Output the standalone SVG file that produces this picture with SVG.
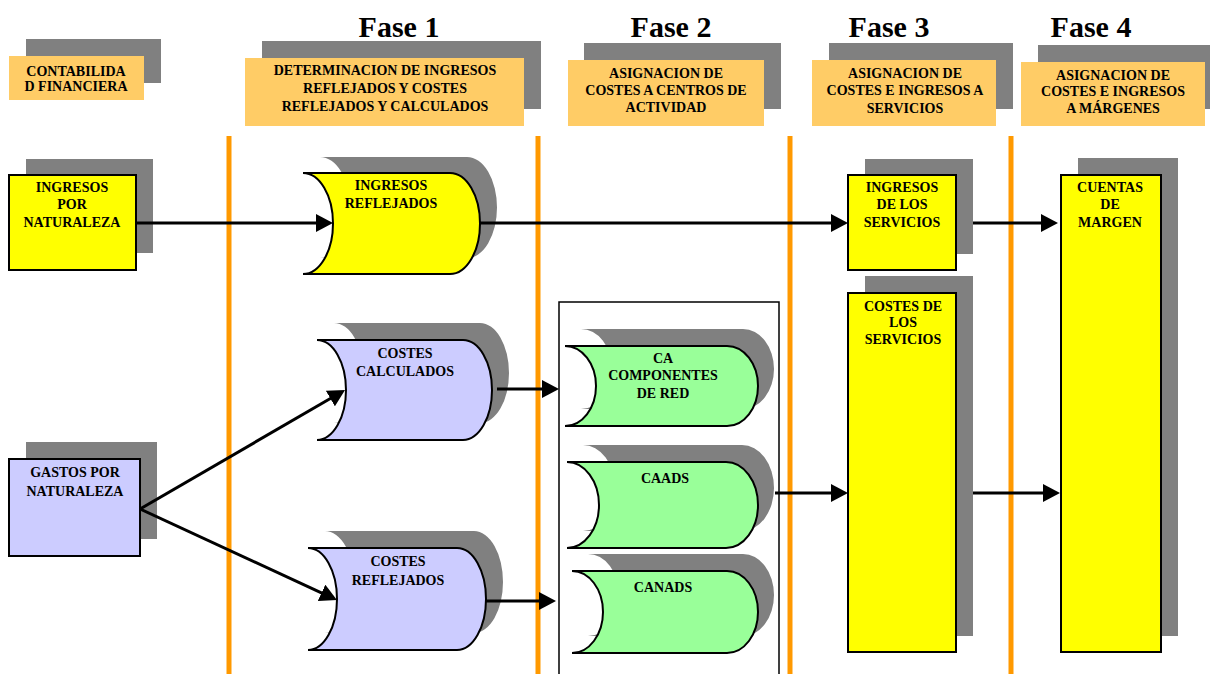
<svg xmlns="http://www.w3.org/2000/svg" width="1210" height="674" viewBox="0 0 1210 674">
<style>
.sh{fill:#808080;stroke:none}
.hdr{fill:#FFCC66;stroke:none}
.yel{fill:#FFFF00;stroke:#000;stroke-width:2}
.lav{fill:#CCCCFF;stroke:#000;stroke-width:2}
.grn{fill:#99FF99;stroke:#000;stroke-width:2}
.or{stroke:#FF9900;stroke-width:5}
.t{font-family:"Liberation Serif","Times New Roman",serif;font-weight:bold;font-size:14px;fill:#000;text-anchor:middle}
.ft{font-family:"Liberation Serif","Times New Roman",serif;font-weight:bold;font-size:30px;fill:#000;text-anchor:middle}
.c{stroke:#000;stroke-width:3;fill:none;marker-end:url(#ah)}
</style>
<defs>
<marker id="ah" markerUnits="userSpaceOnUse" markerWidth="17" markerHeight="18" refX="7" refY="9" orient="auto">
<path d="M0,0 L17,9 L0,18 Z" fill="#000"/>
</marker>
</defs>
<rect width="1210" height="674" fill="#fff"/>

<g id="phase-lines">
<line class="or" x1="229" y1="136" x2="229" y2="674"/>
<line class="or" x1="538" y1="136" x2="538" y2="674"/>
<line class="or" x1="790" y1="136" x2="790" y2="674"/>
<line class="or" x1="1011" y1="136" x2="1011" y2="674"/>
</g>

<g id="titles">
<text class="ft" x="399" y="37">Fase 1</text>
<text class="ft" x="671" y="37">Fase 2</text>
<text class="ft" x="889" y="37">Fase 3</text>
<text class="ft" x="1091" y="37">Fase 4</text>
</g>

<g id="hdr-contabilidad">
<rect class="sh" x="26" y="39" width="135" height="44"/>
<rect class="hdr" x="9" y="56" width="135" height="44"/>
<text class="t" x="76" y="76">CONTABILIDA</text>
<text class="t" x="76" y="91">D FINANCIERA</text>
</g>
<g id="hdr-fase1">
<rect class="sh" x="262" y="41" width="279" height="68"/>
<rect class="hdr" x="245" y="58" width="279" height="68"/>
<text class="t" x="385" y="75">DETERMINACION DE INGRESOS</text>
<text class="t" x="385" y="93">REFLEJADOS Y COSTES</text>
<text class="t" x="385" y="111">REFLEJADOS Y CALCULADOS</text>
</g>
<g id="hdr-fase2">
<rect class="sh" x="584" y="43" width="197" height="66"/>
<rect class="hdr" x="568" y="60" width="196" height="66"/>
<text class="t" x="666" y="78">ASIGNACION DE</text>
<text class="t" x="666" y="95">COSTES A CENTROS DE</text>
<text class="t" x="666" y="112">ACTIVIDAD</text>
</g>
<g id="hdr-fase3">
<rect class="sh" x="829" y="43" width="184" height="66"/>
<rect class="hdr" x="812" y="60" width="184" height="66"/>
<text class="t" x="905" y="78">ASIGNACION DE</text>
<text class="t" x="905" y="95">COSTES E INGRESOS A</text>
<text class="t" x="905" y="113">SERVICIOS</text>
</g>
<g id="hdr-fase4">
<rect class="sh" x="1038" y="45" width="172" height="64"/>
<rect class="hdr" x="1021" y="62" width="184" height="64"/>
<text class="t" x="1113" y="80">ASIGNACION DE</text>
<text class="t" x="1113" y="96">COSTES E INGRESOS</text>
<text class="t" x="1113" y="113">A MÁRGENES</text>
</g>

<g id="ca-container">
<rect x="559" y="302" width="220" height="380" fill="#fff" stroke="#000" stroke-width="1.5"/>
</g>

<g id="ingresos-naturaleza">
<rect class="sh" x="26" y="159" width="127" height="94"/>
<rect class="yel" x="9" y="175" width="127" height="95"/>
<text class="t" x="72" y="192">INGRESOS</text>
<text class="t" x="72" y="209">POR</text>
<text class="t" x="72" y="227">NATURALEZA</text>
</g>

<g id="ingresos-reflejados">
<path class="sh" transform="translate(17,-16)" d="M303,173 H450 A30,50.5 0 0 1 450,274 H303 A30,50.5 0 0 0 303,173 Z"/>
<path class="yel" d="M303,173 H450 A30,50.5 0 0 1 450,274 H303 A30,50.5 0 0 0 303,173 Z"/>
<text class="t" x="391" y="190">INGRESOS</text>
<text class="t" x="391" y="208">REFLEJADOS</text>
</g>

<g id="gastos-naturaleza">
<rect class="sh" x="26" y="442" width="131" height="97"/>
<rect class="lav" x="9" y="459" width="131" height="97"/>
<text class="t" x="75" y="477">GASTOS POR</text>
<text class="t" x="75" y="496">NATURALEZA</text>
</g>

<g id="costes-calculados">
<path class="sh" transform="translate(17,-17)" d="M317,340 H463 A29,50 0 0 1 463,440 H317 A29,50 0 0 0 317,340 Z"/>
<path class="lav" d="M317,340 H463 A29,50 0 0 1 463,440 H317 A29,50 0 0 0 317,340 Z"/>
<text class="t" x="405" y="358">COSTES</text>
<text class="t" x="405" y="376">CALCULADOS</text>
</g>

<g id="costes-reflejados">
<path class="sh" transform="translate(17,-17)" d="M308,548 H457 A29,51 0 0 1 457,650 H308 A29,51 0 0 0 308,548 Z"/>
<path class="lav" d="M308,548 H457 A29,51 0 0 1 457,650 H308 A29,51 0 0 0 308,548 Z"/>
<text class="t" x="398" y="566">COSTES</text>
<text class="t" x="398" y="585">REFLEJADOS</text>
</g>

<g id="ca-componentes-red">
<path class="sh" transform="translate(16,-17)" d="M565,346 H727 A31,40 0 0 1 727,426 H565 A31,40 0 0 0 565,346 Z"/>
<path class="grn" d="M565,346 H727 A31,40 0 0 1 727,426 H565 A31,40 0 0 0 565,346 Z"/>
<text class="t" x="663" y="363">CA</text>
<text class="t" x="663" y="380">COMPONENTES</text>
<text class="t" x="663" y="398">DE RED</text>
</g>

<g id="caads">
<path class="sh" transform="translate(16,-17)" d="M567,462 H726 A32,43 0 0 1 726,548 H567 A32,43 0 0 0 567,462 Z"/>
<path class="grn" d="M567,462 H726 A32,43 0 0 1 726,548 H567 A32,43 0 0 0 567,462 Z"/>
<text class="t" x="665" y="483">CAADS</text>
</g>

<g id="canads">
<path class="sh" transform="translate(16,-17)" d="M572,571 H727 A31,41 0 0 1 727,653 H572 A31,41 0 0 0 572,571 Z"/>
<path class="grn" d="M572,571 H727 A31,41 0 0 1 727,653 H572 A31,41 0 0 0 572,571 Z"/>
<text class="t" x="663" y="592">CANADS</text>
</g>

<g id="ingresos-servicios">
<rect class="sh" x="865" y="159" width="108" height="95"/>
<rect class="yel" x="848" y="175" width="108" height="95"/>
<text class="t" x="902" y="192">INGRESOS</text>
<text class="t" x="902" y="209">DE LOS</text>
<text class="t" x="902" y="227">SERVICIOS</text>
</g>

<g id="costes-servicios">
<rect class="sh" x="865" y="276" width="108" height="360"/>
<rect class="yel" x="848" y="293" width="108" height="359"/>
<text class="t" x="903" y="311">COSTES DE</text>
<text class="t" x="903" y="327">LOS</text>
<text class="t" x="903" y="344">SERVICIOS</text>
</g>

<g id="cuentas-margen">
<rect class="sh" x="1078" y="158" width="100" height="478"/>
<rect class="yel" x="1061" y="175" width="100" height="477"/>
<text class="t" x="1110" y="192">CUENTAS</text>
<text class="t" x="1110" y="209">DE</text>
<text class="t" x="1110" y="227">MARGEN</text>
</g>

<g id="connectors">
<line class="c" x1="136" y1="223" x2="323" y2="223"/>
<line class="c" x1="480" y1="223" x2="838" y2="223"/>
<line class="c" x1="973" y1="223" x2="1048" y2="223"/>
<line class="c" x1="140" y1="509" x2="336.4" y2="395"/>
<line class="c" x1="140" y1="509" x2="327.9" y2="595.8"/>
<line class="c" x1="497" y1="389" x2="549" y2="389"/>
<line class="c" x1="486" y1="601" x2="546" y2="601"/>
<line class="c" x1="775" y1="493" x2="838" y2="493"/>
<line class="c" x1="973" y1="493" x2="1050" y2="493"/>
</g>
</svg>
